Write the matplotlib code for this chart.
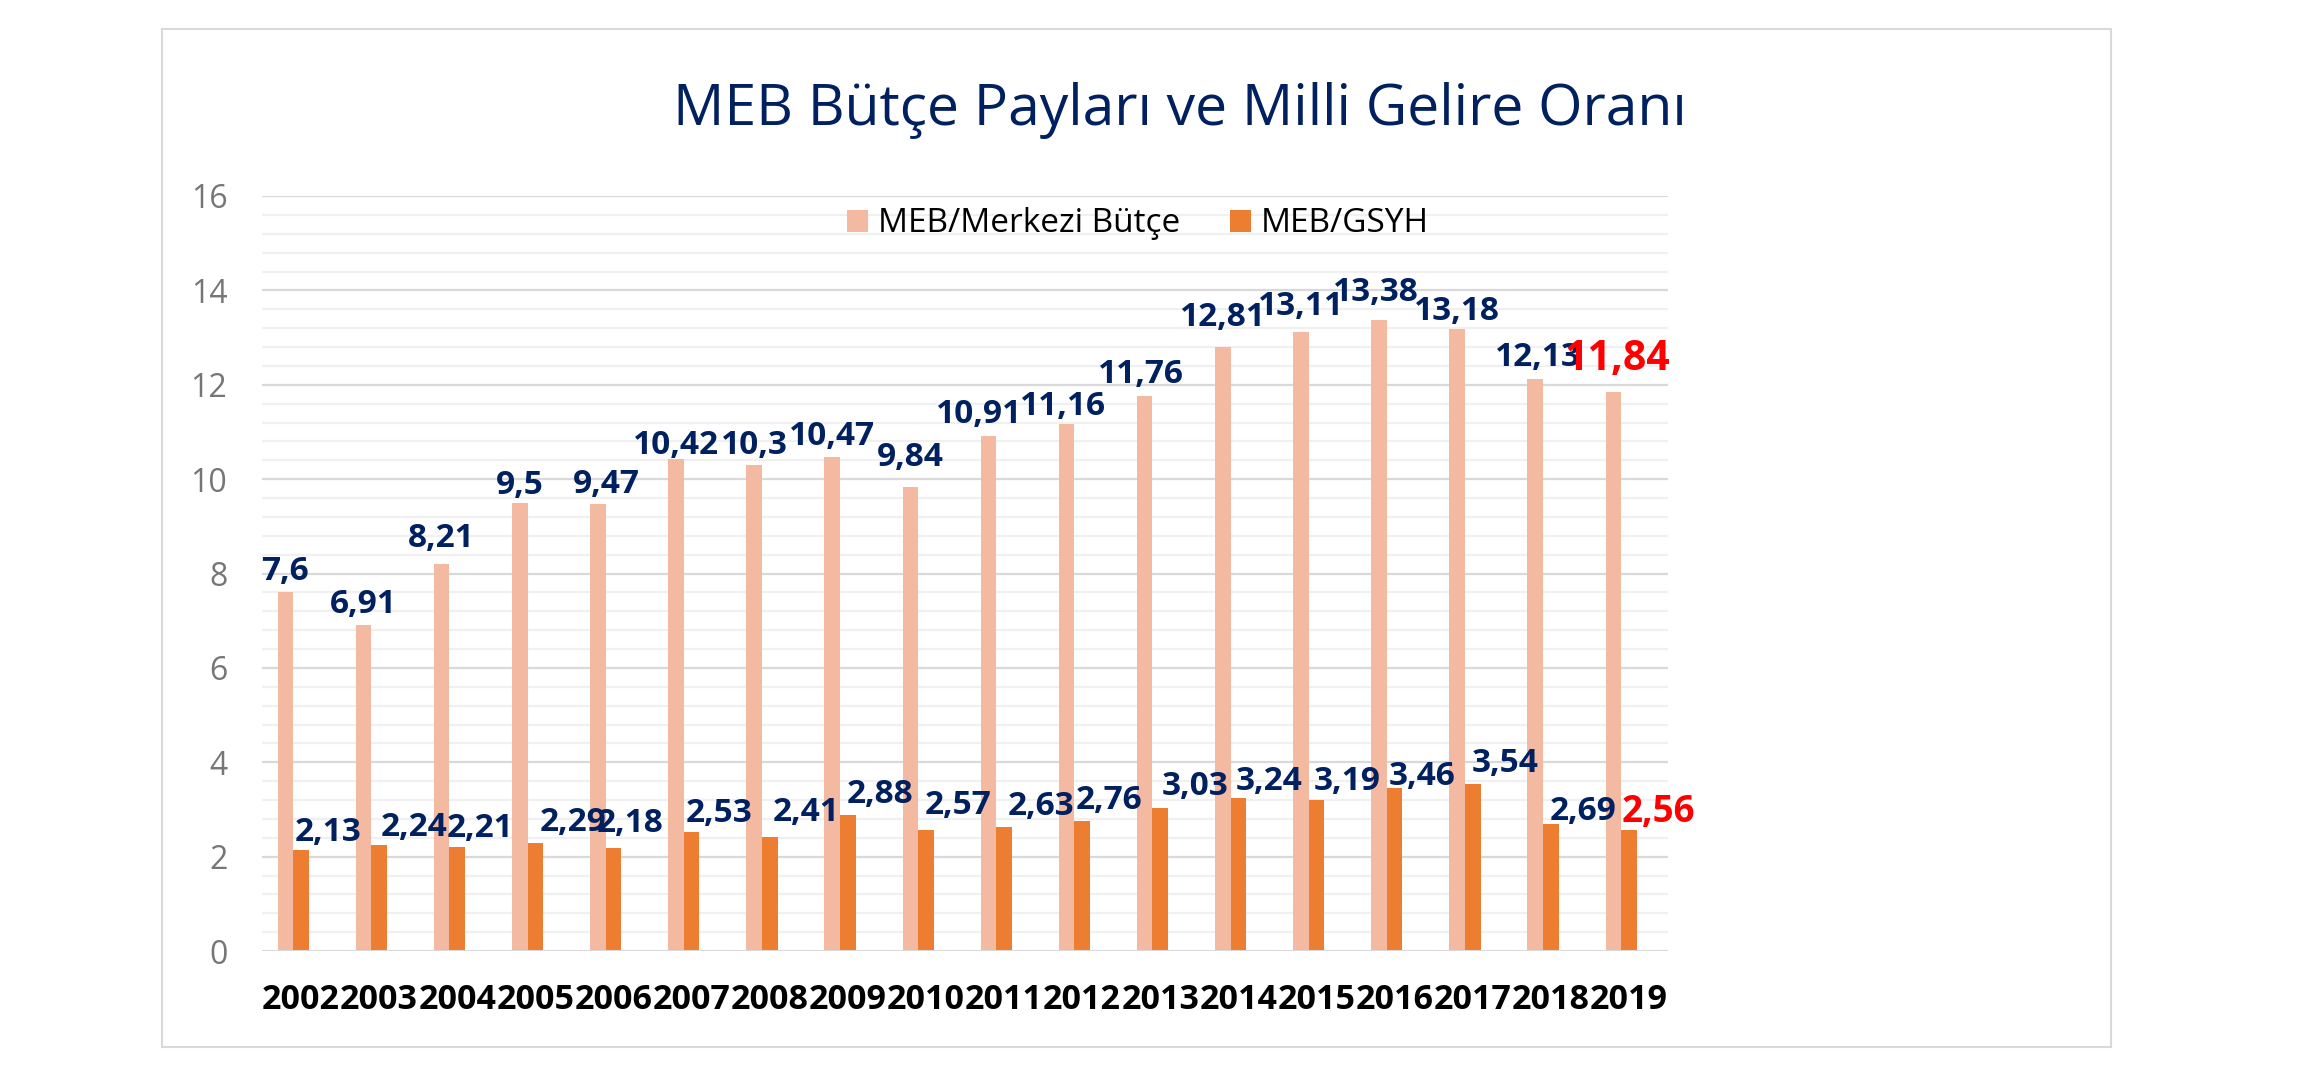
#Imports
from matplotlib import pyplot as plt
from matplotlib import rcParams
from matplotlib.patches import Rectangle
import numpy as np

rcParams['font.family'] = ['Open Sans', 'DejaVu Sans']

#Data
years = ['2002', '2003', '2004', '2005', '2006', '2007', '2008', '2009', '2010',
         '2011', '2012', '2013', '2014', '2015', '2016', '2017', '2018', '2019']
butce = [7.6, 6.91, 8.21, 9.5, 9.47, 10.42, 10.3, 10.47, 9.84,
         10.91, 11.16, 11.76, 12.81, 13.11, 13.38, 13.18, 12.13, 11.84]
gsyh = [2.13, 2.24, 2.21, 2.29, 2.18, 2.53, 2.41, 2.88, 2.57,
        2.63, 2.76, 3.03, 3.24, 3.19, 3.46, 3.54, 2.69, 2.56]
legend_names = ['MEB/Merkezi Bütçe', 'MEB/GSYH']
title = 'MEB Bütçe Payları ve Milli Gelire Oranı'

#Label nudges (pixels, as the labels sit in the original)
butce_dx = [0, 0, 0, 0, 8, 0, 0, 0, 0, -9, -4, -4, 0, 0, -3, 0, 3, 4]
butce_dy = [12, 12, 17, 9, 11, 5, 11, 12, 21, 13, 9, 13, 21, 17, 19, 9, 13, 22]
gsyh_dx = [27, 35, 23, 38, 17, 27, 36, 32, 32, 37, 27, 35, 31, 31, 27, 32, 32, 29]
gsyh_dy = [9, 9, 10, 12, 16, 10, 16, 12, 16, 12, 12, 13, 8, 10, 3, 12, 4, 8]

#Colours
pink = '#F4B9A1'
orange = '#ED7D31'
navy = '#002060'
grey = '#767676'

W, H = 2311, 1092
fig = plt.figure(figsize=(W / 100, H / 100), dpi=100)
fig.patch.set_facecolor('white')

# outer chart border
fig.patches.append(Rectangle((162 / W, 1 - 1047 / H), (2111 - 162) / W, (1047 - 29) / H,
                             transform=fig.transFigure, fill=False,
                             edgecolor='#D9D9D9', linewidth=1.5))

a = fig.add_axes([262 / W, 1 - 951 / H, (1668 - 262) / W, (951 - 196) / H])

x = np.arange(len(years))
bw = 0.2
px = 1406 / len(years)  # pixels per category

a.set_xlim(-0.5, len(years) - 0.5)
a.set_ylim(0, 16)

# grid
for v in np.arange(0.4, 16.01, 0.4):
    major = abs(v / 2 - round(v / 2)) < 1e-6
    a.axhline(v, color='#D9D9D9' if major else '#F0F0F0', linewidth=1.6, zorder=0)
a.axhline(0, color='#D9D9D9', linewidth=2.2, zorder=3)

a.bar(x - bw, butce, bw, color=pink, label=legend_names[0], zorder=2)
a.bar(x, gsyh, bw, color=orange, label=legend_names[1], zorder=2)

# data labels
for i in range(len(years)):
    last = i == len(years) - 1
    c = 'red' if last else navy
    a.annotate(str(butce[i]).replace('.', ','), (x[i] - bw + butce_dx[i] / px, butce[i]),
               xytext=(0, butce_dy[i] * 0.72), textcoords='offset points',
               ha='center', va='baseline',
               fontsize=29.5 if last else 24, fontweight='bold', color=c, zorder=5)
    a.annotate(str(gsyh[i]).replace('.', ','), (x[i] + gsyh_dx[i] / px, gsyh[i]),
               xytext=(0, gsyh_dy[i] * 0.72), textcoords='offset points',
               ha='center', va='baseline',
               fontsize=26.5 if last else 24, fontweight='bold', color=c, zorder=5)

# axes
for s in a.spines.values():
    s.set_visible(False)
a.set_xticks(x)
a.set_xticklabels(years, fontsize=24.5, fontweight='bold', color='black')
a.set_yticks(np.arange(0, 17, 2))
a.set_yticklabels([str(v) for v in range(0, 17, 2)], fontsize=23, color=grey)
a.tick_params(axis='x', length=0, pad=23)
a.tick_params(axis='y', length=0, pad=25)

a.legend(loc='center', bbox_to_anchor=(1138 / W, 1 - 224 / H), bbox_transform=fig.transFigure,
         ncol=2, frameon=False, fontsize=24, handlelength=0.62, handleheight=0.62,
         handletextpad=0.3, columnspacing=1.5)

fig.text(1180 / W, 1 - 125 / H, title, ha='center', va='baseline',
         fontsize=41, color=navy)

fig.savefig('out.png', dpi=100)
